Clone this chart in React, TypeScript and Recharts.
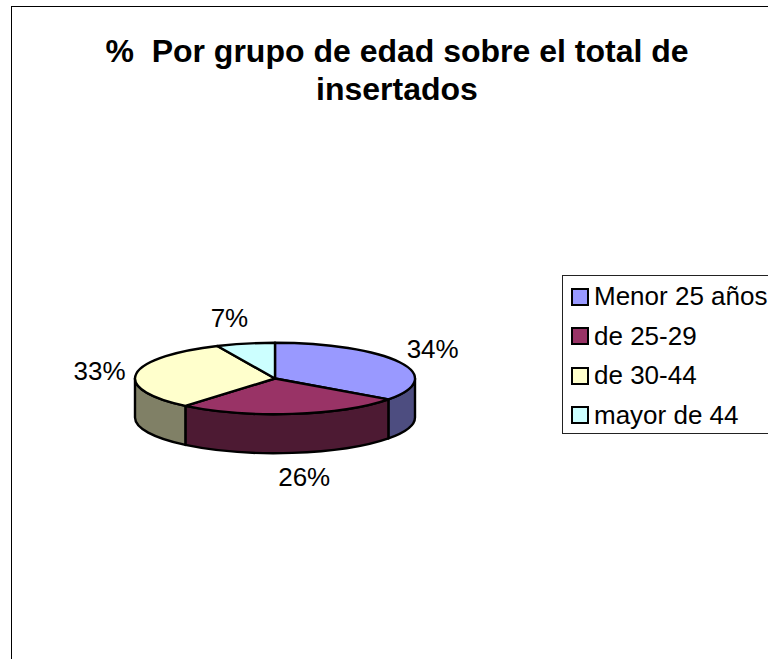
import { Legend, Pie, PieChart } from "recharts";

const categories = ["Menor 25 años", "de 25-29", "de 30-44", "mayor de 44"];
const shares = [34, 26, 33, 7];
const topColors = ["#9999ff", "#993366", "#ffffcc", "#ccffff"];
const wallColors = ["#4d4d80", "#4d1a33", "#808066", "#668080"];

// label nudges from the rim of the ellipse, one per slice
const labelNudges = [
  [35, -3],
  [3, 72],
  [-36, 5],
  [-15, -17],
];

const topData = categories.map((name, i) => ({ name, value: shares[i], fill: topColors[i] }));
const wallData = categories.map((name, i) => ({ name, value: shares[i], fill: wallColors[i] }));

const FLATTEN = 0.255;
const DEPTH = 39;
const FONT = '"Liberation Sans", Arial, sans-serif';

function rimPoint(cx: number, cy: number, r: number, angle: number) {
  const rad = (angle * Math.PI) / 180;
  return [cx + r * Math.cos(rad), cy - r * FLATTEN * Math.sin(rad)];
}

// the 3D tilt of the original pushes slice edges a few degrees clockwise
function tilted(angle: number) {
  const fromTop = 90 - angle;
  return angle - 4 * Math.sin((fromTop * Math.PI) / 360);
}

function TopSlice(props: any) {
  const { cx, cy, outerRadius: r, startAngle, endAngle, fill } = props;
  const [x1, y1] = rimPoint(cx, cy, r, tilted(startAngle));
  const [x2, y2] = rimPoint(cx, cy, r, tilted(endAngle));
  const large = Math.abs(startAngle - endAngle) > 180 ? 1 : 0;
  const d = `M${cx},${cy} L${x1},${y1} A${r},${r * FLATTEN} 0 ${large} 1 ${x2},${y2} Z`;
  return <path d={d} fill={fill} stroke="#000" strokeWidth={2.4} strokeLinejoin="round" />;
}

// only the front half of the rim (angles 0 to -180) has a visible wall
function WallSlice(props: any) {
  const { cx, cy, outerRadius: r, startAngle, endAngle, fill } = props;
  const from = Math.min(tilted(startAngle), 0);
  const to = Math.max(tilted(endAngle), -180);
  if (from <= to) {
    return <g />;
  }
  const [x1, y1] = rimPoint(cx, cy, r, from);
  const [x2, y2] = rimPoint(cx, cy, r, to);
  const ry = r * FLATTEN;
  const d = `M${x1},${y1} A${r},${ry} 0 0 1 ${x2},${y2} L${x2},${y2 + DEPTH} A${r},${ry} 0 0 0 ${x1},${y1 + DEPTH} Z`;
  return <path d={d} fill={fill} stroke="#000" strokeWidth={2.4} strokeLinejoin="round" />;
}

function SliceLabel(props: any) {
  const { cx, cy, outerRadius: r, midAngle, value, index } = props;
  const [x, y] = rimPoint(cx, cy, r, midAngle);
  const [dx, dy] = labelNudges[index];
  return (
    <text x={x + dx} y={y + dy} textAnchor="middle" fontSize={26} fontFamily={FONT} fill="#000">
      {`${value}%`}
    </text>
  );
}

function LegendBox({ payload }: any) {
  const items = (payload ?? []).filter((entry: any) => entry.type !== "none");
  return (
    <div
      style={{
        boxSizing: "border-box",
        width: 240,
        height: 159,
        border: "1.5px solid #222",
        paddingLeft: 8,
        paddingTop: 1,
        fontFamily: FONT,
        fontSize: 26,
        color: "#000",
      }}
    >
      {items.map((entry: any) => (
        <div key={entry.value} style={{ display: "flex", alignItems: "center", height: 39.5, whiteSpace: "nowrap" }}>
          <span
            style={{
              boxSizing: "border-box",
              width: 18,
              height: 18,
              marginRight: 5,
              background: entry.color,
              border: "2px solid #000",
            }}
          />
          {entry.value}
        </div>
      ))}
    </div>
  );
}

export default function App() {
  return (
    <div style={{ position: "absolute", left: 0, top: 0, width: 768, height: 659, overflow: "hidden", background: "#fff" }}>
      <div style={{ position: "absolute", left: 11, top: 6, width: 768, height: 660, borderLeft: "1.5px solid #000", borderTop: "1.5px solid #000" }} />
      <PieChart width={768} height={659} margin={{ top: 0, right: 0, bottom: 0, left: 0 }} style={{ position: "absolute", left: 0, top: 0 }}>
        <text x={397} y={62} textAnchor="middle" fontSize={32} fontWeight="bold" fontFamily={FONT} xmlSpace="preserve">
          %  Por grupo de edad sobre el total de
        </text>
        <text x={397} y={100} textAnchor="middle" fontSize={32} fontWeight="bold" fontFamily={FONT}>
          insertados
        </text>
        <Pie
          data={wallData}
          dataKey="value"
          nameKey="name"
          cx={275}
          cy={378.5}
          outerRadius={140}
          startAngle={90}
          endAngle={-270}
          shape={WallSlice}
          legendType="none"
          isAnimationActive={false}
        />
        <Pie
          data={topData}
          dataKey="value"
          nameKey="name"
          cx={275}
          cy={378.5}
          outerRadius={140}
          startAngle={90}
          endAngle={-270}
          shape={TopSlice}
          label={SliceLabel}
          labelLine={false}
          isAnimationActive={false}
        />
        <Legend content={LegendBox} wrapperStyle={{ position: "absolute", left: 562, top: 275, width: 240, bottom: "auto", right: "auto" }} />
      </PieChart>
    </div>
  );
}
